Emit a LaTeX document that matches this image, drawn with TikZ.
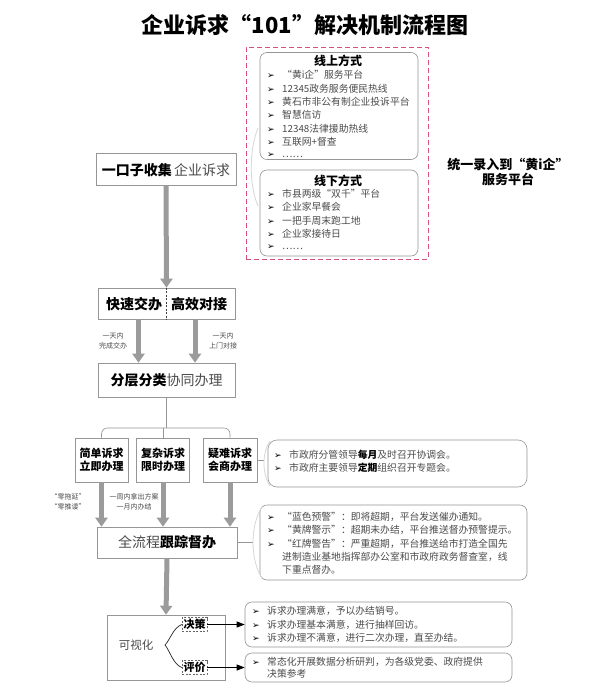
\documentclass[tikz,border=0pt]{standalone}
\usepackage{fontspec}
\setmainfont{Noto Sans CJK SC}
\newfontfamily\bulletfont{DejaVu Sans}
\usetikzlibrary{arrows.meta,calc}
\definecolor{pinkd}{RGB}{215,80,120}
\definecolor{txtg}{RGB}{75,75,75}
\definecolor{boxg}{RGB}{150,150,150}
\definecolor{arrg}{RGB}{155,155,155}
\definecolor{faintg}{RGB}{215,215,215}
\newcommand{\bul}{\makebox[15pt][l]{\color{black}\bulletfont\fontsize{9}{9}\selectfont ➢}}
\tikzset{
 box/.style={draw=boxg, line width=0.6pt, fill=white, inner sep=0pt},
 rbox/.style={draw=boxg, line width=0.6pt, rounded corners=7pt, inner sep=0pt},
 bigarrow/.style={draw=arrg, line width=5pt, -{Triangle[width=12pt,length=9pt]}},
 item/.style={anchor=west, inner sep=0pt, text=txtg, font=\fontsize{9.8}{11}\selectfont},
 faint/.style={draw=faintg, line width=0.8pt},
 note/.style={inner sep=0pt, text=txtg, font=\fontsize{7}{10}\selectfont, align=center},
 thinline/.style={draw=boxg, line width=0.6pt},
 bigtext/.style={inner sep=0pt, font=\fontsize{14}{16}\selectfont},
 small/.style={inner sep=0pt, font=\fontsize{11}{13}\selectfont\bfseries, align=center},
}
\begin{document}
\begin{tikzpicture}[x=1pt,y=-1pt]
\useasboundingbox[fill=white] (0,0) rectangle (591,691);

% title
\node[font=\fontsize{22}{26}\selectfont\bfseries] (title) at (305,25) {企业诉求“101”解决机制流程图};

% channels group
\node[draw=pinkd, dash pattern=on 5pt off 3pt, line width=0.8pt, minimum width=182pt, minimum height=212pt, inner sep=0pt] (group) at (337,153) {};
\node[rbox, minimum width=158pt, minimum height=107pt] (online) at (339,106) {};
\node[inner sep=0pt, font=\fontsize{12}{14}\selectfont\bfseries] (ontitle) at (338,61) {线上方式};
\foreach \t [count=\i from 0] in {“黄i企”服务平台, 12345政务服务便民热线, 黄石市非公有制企业投诉平台, 智慧信访, 12348法律援助热线, 互联网+督查, ……}
  \node[item] (on\i) at (267,75+13.4*\i) {\bul\t};
\node[rbox, minimum width=158pt, minimum height=86pt] (offline) at (339,213) {};
\node[inner sep=0pt, font=\fontsize{12}{14}\selectfont\bfseries] (offtitle) at (338,181) {线下方式};
\foreach \t [count=\i from 0] in {市县两级“双千”平台, 企业家早餐会, 一把手周末跑工地, 企业家接待日, ……}
  \node[item] (off\i) at (267,194+13.2*\i) {\bul\t};
\draw[faint] (258,128) .. controls (249,150) and (249,185) .. (258,206);

\node[inner sep=0pt, font=\fontsize{13}{15}\selectfont\bfseries, align=center] (tongyi) at (508,172) {统一录入到“黄i企”\\服务平台};

% collect
\node[box, minimum width=140pt, minimum height=32pt] (collect) at (166,169) {};
\node[bigtext] (collectt) at (166,170) {\textbf{一口子收集}\,{\color{txtg}企业诉求}};

% quick
\node[box, minimum width=137pt, minimum height=31pt] (quick) at (166.5,303.5) {};
\node[bigtext, font=\fontsize{14}{16}\selectfont\bfseries] (q1) at (134,304) {快速交办};
\node[bigtext, font=\fontsize{14}{16}\selectfont\bfseries] (q2) at (199,304) {高效对接};
\draw[black!75, dash pattern=on 2pt off 1.5pt, line width=0.6pt] (quick.north) -- (quick.south);
\draw[bigarrow] (collect.south) -- (quick.north);

% layer
\node[box, minimum width=137pt, minimum height=34pt] (layer) at (166.5,380) {};
\node[bigtext] (layert) at (166.5,380) {\textbf{分层分类}{\color{txtg}协同办理}};
\draw[bigarrow] ([xshift=-28pt]quick.south) -- ([xshift=-28pt]layer.north);
\draw[bigarrow] ([xshift=28.5pt]quick.south) -- ([xshift=28.5pt]layer.north);
\node[note] (l1) at (113,341) {一天内\\完成交办};
\node[note] (l2) at (223,341) {一天内\\上门对接};

% three kinds
\node[box, minimum width=53pt, minimum height=44pt] (c1) at (101.5,460) {};
\node[box, minimum width=53pt, minimum height=44pt] (c2) at (163,460) {};
\node[box, minimum width=54pt, minimum height=44pt] (c3) at (230,460) {};
\node[small] (c1t) at (c1) {简单诉求\\立即办理};
\node[small] (c2t) at (c2) {复杂诉求\\限时办理};
\node[small] (c3t) at (c3) {疑难诉求\\会商办理};
\coordinate (tj) at (166.5,428);
\draw[thinline] (layer.south) -- (tj);
\draw[thinline, rounded corners=6pt] (c1.north) |- (tj) -| (c3.north);
\draw[thinline] (tj -| c2.north) -- (c2.north);

% meeting box
\node[rbox, rounded corners=9pt, minimum width=259pt, minimum height=47pt] (meet) at (397.5,463.5) {};
\node[item] (m1) at (274,455) {\bul 市政府分管领导{\color{black}\bfseries 每月}及时召开协调会。};
\node[item] (m2) at (274,468) {\bul 市政府主要领导{\color{black}\bfseries 定期}组织召开专题会。};
\coordinate (mj) at (264,460);
\draw[thinline] (c3.east) -- (mj);
\draw[faint] (270,441) .. controls (262,452) and (262,474) .. (270,486);

% track
\node[box, minimum width=140pt, minimum height=31pt] (track) at (167,542.5) {};
\node[bigtext] (trackt) at (167,542.5) {{\color{txtg}全流程}\textbf{跟踪督办}};
\draw[bigarrow] (c1.south) -- (c1.south |- track.north);
\draw[bigarrow] (c2.south) -- (c2.south |- track.north);
\draw[bigarrow] (c3.south) -- (c3.south |- track.north);
\node[note] (z1) at (68,502) {“零拖延”\\“零推诿”};
\node[note] (z2) at (134,502) {一周内拿出方案\\一月内办结};

\node[rbox, minimum width=267pt, minimum height=75pt] (warn) at (393.5,542.5) {};
\node[item] (w1) at (267,517) {\bul “蓝色预警”：即将超期，平台发送催办通知。};
\node[item] (w2) at (267,530) {\bul “黄牌警示”：超期未办结，平台推送督办预警提示。};
\node[item] (w3) at (267,544) {\bul “红牌警告”：严重超期，平台推送给市打造全国先};
\node[item] (w4) at (282,557) {进制造业基地指挥部办公室和市政府政务督查室，线};
\node[item] (w5) at (282,570) {下重点督办。};
\coordinate (tjn) at (253,542.5);
\draw[thinline] (track.east) -- (tjn);
\draw[faint] (262,507) .. controls (250,525) and (250,560) .. (262,578);

% visual
\node[box, minimum width=118pt, minimum height=65pt] (vis) at (166,647.5) {};
\draw[bigarrow] (track.south) -- (vis.north);
\node[inner sep=0pt, text=txtg, font=\fontsize{11.5}{13}\selectfont] (vist) at (136,645) {可视化};
\node[draw=black!60, dash pattern=on 2pt off 1.5pt, line width=0.6pt, inner sep=1.5pt, font=\fontsize{11}{13}\selectfont\bfseries] (jc) at (194.5,624.5) {决策};
\node[draw=black!60, dash pattern=on 2pt off 1.5pt, line width=0.6pt, inner sep=1.5pt, font=\fontsize{11}{13}\selectfont\bfseries] (pj) at (194.5,667.5) {评价};
\coordinate (bp) at (165,645);
\draw[black!85, line width=0.7pt] (jc.west) .. controls (173,628) and (170,640) .. (bp) .. controls (170,651) and (173,664) .. (pj.west);

\node[rbox, minimum width=267pt, minimum height=45pt] (dec) at (378.5,624.5) {};
\node[rbox, minimum width=267pt, minimum height=29pt] (eva) at (378.5,667.5) {};
\draw[black, line width=0.8pt, -{Triangle[width=6pt,length=8pt]}] (jc.east) -- (jc.east -| dec.west);
\draw[black, line width=0.8pt, -{Triangle[width=6pt,length=8pt]}] (pj.east) -- (pj.east -| eva.west);
\node[item] (d1) at (252,611) {\bul 诉求办理满意，予以办结销号。};
\node[item] (d2) at (252,624.5) {\bul 诉求办理基本满意，进行抽样回访。};
\node[item] (d3) at (252,638) {\bul 诉求办理不满意，进行二次办理，直至办结。};
\node[item] (e1) at (252,662) {\bul 常态化开展数据分析研判，为各级党委、政府提供};
\node[item] (e2) at (267,674) {决策参考};
\end{tikzpicture}
\end{document}
